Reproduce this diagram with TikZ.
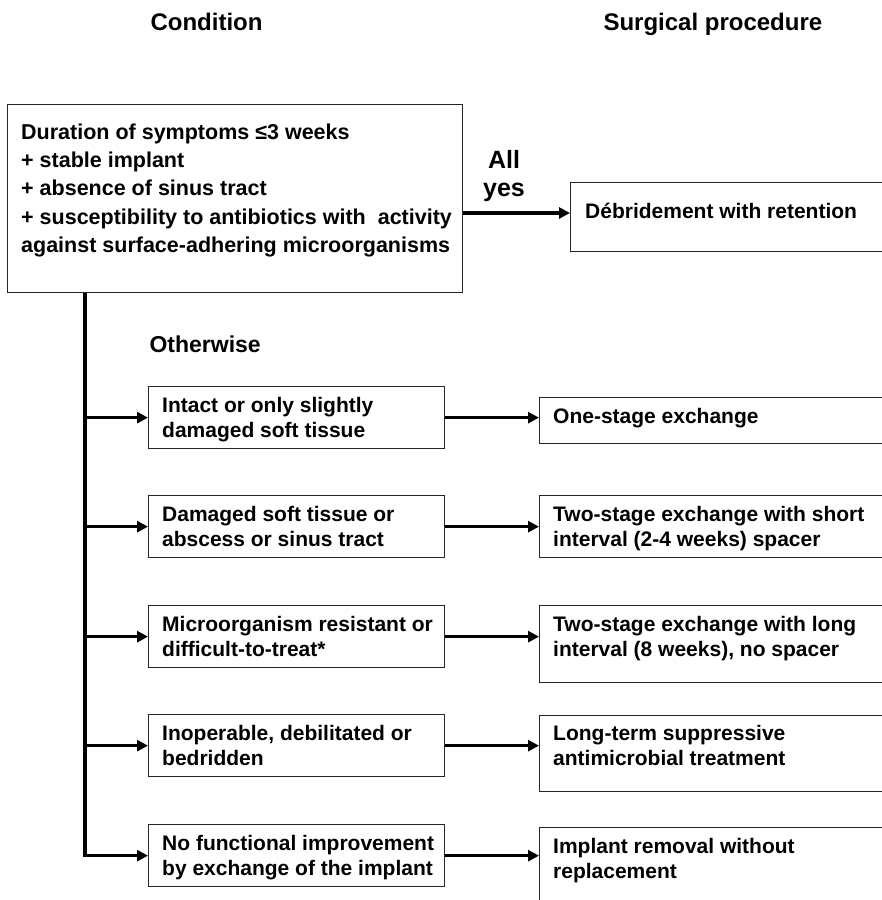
\documentclass[tikz,border=0pt]{standalone}
\usepackage{fontspec}
\setmainfont{Liberation Sans}
\usetikzlibrary{arrows.meta}

\tikzset{
  frame/.style={draw=black!85, line width=1.3pt, anchor=north west, inner sep=0pt},
  boxtext/.style={anchor=north west, align=left, inner sep=0pt,
    font=\bfseries\fontsize{21}{24.5}\selectfont},
  condbox/.style={frame, minimum width=296, minimum height=62},
  procbox/.style={frame, minimum width=360},
  flow/.style={line width=3.5pt, -{Triangle[length=11pt,width=11pt]}},
  heading/.style={font=\bfseries\fontsize{24}{28}\selectfont},
}

\begin{document}
\begin{tikzpicture}[x=1pt, y=-1pt]
  \useasboundingbox (0,0) rectangle (882,900);
  \clip (0,0) rectangle (882,900);

  % Column headings
  \node[heading, anchor=base west] (hcond) at (147,30) {Condition};
  \node[heading, anchor=base west] (hproc) at (600,30) {Surgical procedure};

  % Top condition box
  \node[frame, minimum width=455, minimum height=188] (cond) at (7,104) {};
  \node[boxtext, font=\bfseries\fontsize{21.5}{28.4}\selectfont] (condtext)
    at (21,123.3)
    {Duration of symptoms ≤3 weeks\\
     + stable implant\\
     + absence of sinus tract\\
     + susceptibility to antibiotics with\ \ activity\\
     against surface-adhering microorganisms};

  % Debridement box and its arrow
  \node[procbox, minimum height=69] (deb) at (570,182) {};
  \node[boxtext, anchor=base west] (debtext) at (585,218) {Débridement with retention};
  \coordinate (yes) at (cond.east |- 0,213);
  \draw[flow] (yes) -- (yes -| deb.west);
  \node[heading, font=\bfseries\fontsize{25}{28}\selectfont, align=center, anchor=north]
    (allyes) at (504,147) {All\\yes};

  % Otherwise branch
  \node[heading, anchor=base west, font=\bfseries\fontsize{23}{28}\selectfont] (other) at (146,352) {Otherwise};
  \coordinate (stem) at ([xshift=78pt]cond.south west);

  % Conditions
  \node[condbox] (c1) at (148,386) {};
  \node[condbox] (c2) at (148,495) {};
  \node[condbox] (c3) at (148,605) {};
  \node[condbox] (c4) at (148,714) {};
  \node[condbox] (c5) at (148,824) {};
  \node[boxtext] (c1text) at ([shift={(14,11.2)}]c1.north west) {Intact or only slightly\\damaged soft tissue};
  \node[boxtext] (c2text) at ([shift={(14,11.2)}]c2.north west) {Damaged soft tissue or\\abscess or sinus tract};
  \node[boxtext] (c3text) at ([shift={(14,11.2)}]c3.north west) {Microorganism resistant or\\difficult-to-treat*};
  \node[boxtext] (c4text) at ([shift={(14,11.2)}]c4.north west) {Inoperable, debilitated or\\bedridden};
  \node[boxtext] (c5text) at ([shift={(14,11.2)}]c5.north west) {No functional improvement\\by exchange of the implant};

  % Procedures
  \node[procbox, minimum height=46] (p1) at (539,397) {};
  \node[procbox, minimum height=62] (p2) at (539,495) {};
  \node[procbox, minimum height=77] (p3) at (539,605) {};
  \node[procbox, minimum height=76] (p4) at (539,715) {};
  \node[procbox, minimum height=90] (p5) at (539,827) {};
  \node[boxtext, anchor=base west] (p1text) at (553,423) {One-stage exchange};
  \node[boxtext] (p2text) at ([shift={(14,11.2)}]p2.north west) {Two-stage exchange with short\\interval (2-4 weeks) spacer};
  \node[boxtext] (p3text) at ([shift={(14,11.2)}]p3.north west) {Two-stage exchange with long\\interval (8 weeks), no spacer};
  \node[boxtext] (p4text) at ([shift={(14,10.2)}]p4.north west) {Long-term suppressive\\antimicrobial treatment};
  \node[boxtext] (p5text) at ([shift={(14,11.2)}]p5.north west) {Implant removal without\\replacement};

  % Branch arrows from the stem
  \draw[flow] (stem) |- (c5.west);
  \draw[flow] (stem |- c1.west) -- (c1.west);
  \draw[flow] (stem |- c2.west) -- (c2.west);
  \draw[flow] (stem |- c3.west) -- (c3.west);
  \draw[flow] (stem |- c4.west) -- (c4.west);

  % Arrows to the procedures
  \draw[flow] (c1.east) -- (c1.east -| p1.west);
  \draw[flow] (c2.east) -- (c2.east -| p2.west);
  \draw[flow] (c3.east) -- (c3.east -| p3.west);
  \draw[flow] (c4.east) -- (c4.east -| p4.west);
  \draw[flow] (c5.east) -- (c5.east -| p5.west);
\end{tikzpicture}
\end{document}
